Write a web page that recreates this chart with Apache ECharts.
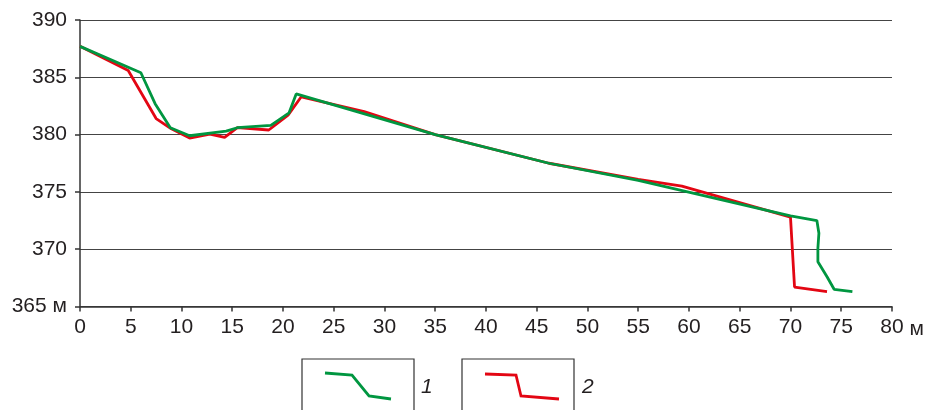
<!DOCTYPE html>
<html>
<head>
<meta charset="utf-8">
<script src="https://cdn.jsdelivr.net/npm/echarts@6/dist/echarts.min.js"></script>
<style>
html,body{margin:0;padding:0;background:#fff;}
#chart{width:927px;height:410px;}
</style>
</head>
<body>
<div id="chart"></div>
<script>
// Data
const xTicks = [0, 80, 5];      // min, max, step (m)
const yTicks = [365, 390, 5];   // min, max, step (m)

const series1Name = '1';
const series1X = [0, 6.0, 7.4, 8.9, 10.8, 14.4, 15.5, 18.8, 20.6, 21.3, 35.0, 46.2, 55.0, 70.0, 72.6, 72.8, 72.7, 72.7, 73.6, 74.3, 76.1];
const series1Y = [387.7, 385.4, 382.7, 380.6, 379.9, 380.3, 380.6, 380.8, 381.9, 383.55, 380.0, 377.5, 376.0, 372.9, 372.5, 371.4, 370.1, 368.9, 367.6, 366.5, 366.3];

const series2Name = '2';
const series2X = [0, 4.75, 7.5, 9.0, 10.8, 12.8, 14.25, 15.5, 18.6, 20.5, 21.8, 28.0, 35.0, 46.2, 55.0, 59.3, 70.0, 70.4, 73.6];
const series2Y = [387.7, 385.6, 381.4, 380.5, 379.7, 380.05, 379.75, 380.6, 380.4, 381.7, 383.3, 382.0, 380.0, 377.5, 376.1, 375.5, 372.8, 366.7, 366.3];

const GREEN = '#009640';
const RED = '#e30613';
const TEXT = '#231f20';
const FONT = '"Liberation Sans", Arial, sans-serif';

function pairs(xs, ys) { return xs.map((x, i) => [x, ys[i]]); }

const chart = echarts.init(document.getElementById('chart'), null, {renderer: 'canvas'});

chart.setOption({
  animation: false,
  backgroundColor: '#fff',
  grid: {left: 80, right: 32, top: 20, bottom: 103.5, containLabel: false},
  xAxis: {
    type: 'value',
    min: xTicks[0], max: xTicks[1], interval: xTicks[2],
    name: 'м',
    nameLocation: 'end',
    nameGap: 17,
    nameTextStyle: {color: TEXT, fontSize: 21, fontFamily: FONT, align: 'left', verticalAlign: 'top', padding: [12, 0, 0, 0]},
    axisLine: {show: true, lineStyle: {color: '#333', width: 1.5}},
    axisTick: {show: true, length: 5, lineStyle: {color: '#333', width: 1.5}},
    axisLabel: {color: TEXT, fontSize: 21, fontFamily: FONT, margin: 10},
    splitLine: {show: false}
  },
  yAxis: {
    type: 'value',
    min: yTicks[0], max: yTicks[1], interval: yTicks[2],
    axisLine: {show: true, lineStyle: {color: '#333', width: 1.5}},
    axisTick: {show: true, length: 5, lineStyle: {color: '#333', width: 1.5}},
    axisLabel: {color: TEXT, fontSize: 21, fontFamily: FONT, margin: 13,
      formatter: v => v === yTicks[0] ? v + ' м' : String(v)},
    splitLine: {show: true, lineStyle: {color: '#444', width: 1.2}}
  },
  series: [
    {
      name: series2Name, type: 'line', data: pairs(series2X, series2Y),
      symbol: 'none', smooth: false, z: 2,
      lineStyle: {color: RED, width: 2.8}
    },
    {
      name: series1Name, type: 'line', data: pairs(series1X, series1Y),
      symbol: 'none', smooth: false, z: 3,
      lineStyle: {color: GREEN, width: 2.8}
    }
  ],
  graphic: [
    {type: 'rect', x: 302, y: 359, shape: {x: 0, y: 0, width: 112, height: 70}, style: {fill: 'none', stroke: '#333', lineWidth: 1.2}},
    {type: 'polyline', shape: {points: [[325, 373], [352, 375], [369, 396], [391, 399]]}, style: {stroke: GREEN, lineWidth: 2.8, fill: 'none'}},
    {type: 'text', x: 421, y: 377, style: {text: series1Name, fill: TEXT, font: 'italic 21px ' + FONT}},
    {type: 'rect', x: 462, y: 359, shape: {x: 0, y: 0, width: 112, height: 70}, style: {fill: 'none', stroke: '#333', lineWidth: 1.2}},
    {type: 'polyline', shape: {points: [[485, 374], [516, 375], [521, 396], [559, 399]]}, style: {stroke: RED, lineWidth: 2.8, fill: 'none'}},
    {type: 'text', x: 582, y: 377, style: {text: series2Name, fill: TEXT, font: 'italic 21px ' + FONT}}
  ]
});
</script>
</body>
</html>
